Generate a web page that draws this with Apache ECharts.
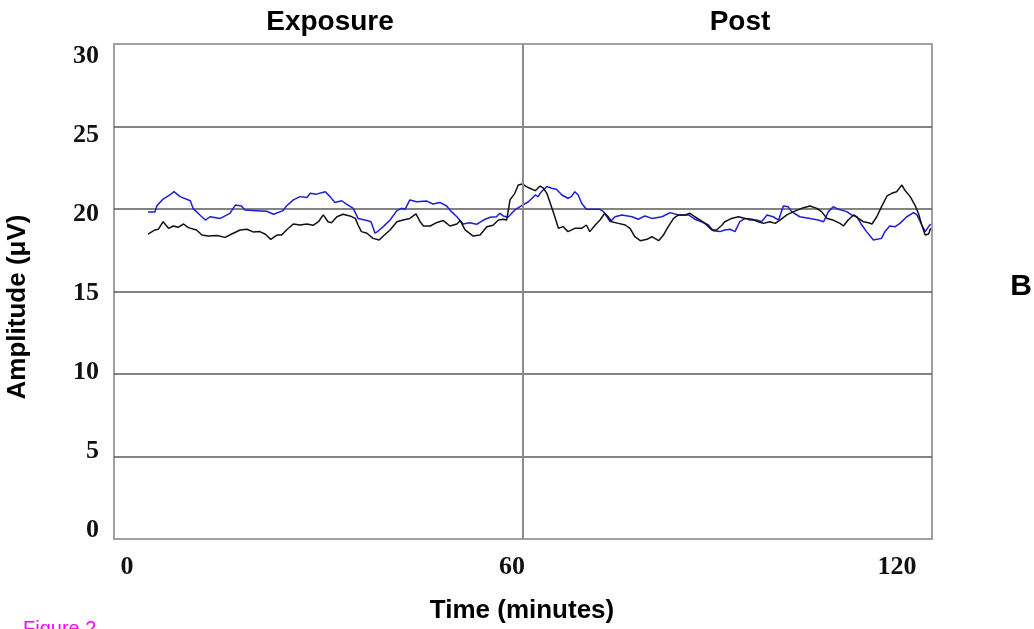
<!DOCTYPE html>
<html>
<head>
<meta charset="utf-8">
<script src="https://cdn.jsdelivr.net/npm/echarts@6/dist/echarts.min.js"></script>
<style>
html,body{margin:0;padding:0;background:#fff;}
#chart{width:1034px;height:629px;}
</style>
</head>
<body>
<div id="chart"></div>
<script>
// ---- Data (time in minutes, amplitude in µV) ----
const blueTime = [5.0,6.0,6.3,7.2,8.2,8.8,9.7,11.2,11.6,12.6,13.4,14.1,15.6,17.0,17.8,18.7,19.2,20.9,22.4,23.4,24.8,25.3,26.3,27.3,28.3,28.8,29.7,31.0,31.7,32.4,33.4,34.1,35.1,35.8,37.1,37.7,38.3,38.8,39.5,40.5,41.5,42.2,42.7,43.4,44.4,45.9,46.8,47.8,48.8,49.5,50.3,51.2,52.2,53.2,54.2,55.2,56.1,56.6,57.1,57.8,58.8,59.8,60.8,61.8,62.2,62.7,63.5,64.2,64.9,65.7,66.6,67.1,67.6,68.1,68.6,69.3,70.3,71.3,71.8,72.8,73.5,74.5,76.0,76.9,77.9,78.9,80.4,81.6,82.8,84.3,85.2,86.2,87.2,87.9,88.9,89.6,90.4,91.1,91.8,92.6,93.3,94.3,95.0,95.8,96.7,97.5,98.2,98.9,99.4,100.6,102.1,103.3,104.1,104.8,105.5,106.3,107.5,108.2,109.0,109.7,110.4,111.4,112.6,113.1,113.8,114.6,115.3,116.3,117.3,117.8,118.5,119.0,119.5,119.8];
const blueAmp = [19.82,19.82,20.2,20.6,20.85,21.05,20.75,20.5,20.04,19.64,19.33,19.53,19.43,19.74,20.24,20.18,19.94,19.9,19.86,19.68,19.9,20.18,20.55,20.75,20.7,20.95,20.9,21.05,20.75,20.4,20.5,20.3,20.04,19.43,19.3,19.23,18.53,18.68,18.93,19.33,19.9,20.04,19.98,20.55,20.44,20.48,20.3,20.4,20.18,19.84,19.53,19.09,19.17,19.07,19.33,19.5,19.53,19.74,19.58,19.5,19.94,20.2,20.44,20.85,20.75,21.05,21.36,21.26,21.2,20.85,20.65,20.75,21.05,20.85,20.35,19.98,19.98,19.98,19.84,19.23,19.53,19.64,19.53,19.38,19.58,19.43,19.53,19.78,19.64,19.64,19.38,19.23,19.03,18.68,18.63,18.73,18.77,18.63,19.23,19.43,19.33,19.33,19.23,19.64,19.53,19.33,20.18,20.14,19.84,19.53,19.43,19.33,19.23,19.84,20.14,19.98,19.84,19.64,19.53,19.03,18.63,18.12,18.22,18.63,18.97,18.93,19.13,19.53,19.78,19.64,19.03,18.63,18.93,19.09];

const blackTime = [5.0,6.0,6.5,7.2,8.0,8.7,9.4,10.2,10.9,12.1,12.9,13.8,15.1,16.3,17.5,18.5,19.5,20.4,21.4,22.2,23.0,23.9,24.6,25.3,26.3,27.3,28.3,29.2,30.0,30.7,31.4,31.9,32.7,33.6,34.6,35.4,35.8,36.3,37.1,38.0,38.9,39.5,40.5,41.5,42.4,43.4,44.3,44.9,45.4,46.4,47.3,48.3,49.3,50.3,50.8,51.5,52.7,53.7,54.7,55.6,56.4,57.1,57.6,58.1,58.8,59.3,59.9,60.5,61.0,61.8,62.5,63.0,63.5,64.0,64.5,65.2,65.9,66.6,67.6,68.6,69.3,69.8,70.6,71.3,72.0,72.5,73.0,74.0,75.0,75.7,76.4,77.2,78.2,78.9,79.9,80.6,81.3,82.1,82.8,83.8,84.5,85.2,86.0,86.7,87.7,88.4,89.2,89.6,90.6,91.6,92.6,93.6,94.5,95.3,96.2,97.0,97.7,98.7,99.7,100.9,102.1,103.1,103.8,104.6,105.5,106.5,107.0,107.7,108.5,109.2,109.9,110.7,111.2,111.9,112.6,113.4,114.1,114.8,115.6,116.0,116.8,117.5,118.0,118.5,119.0,119.5,119.8];
const blackAmp = [18.48,18.73,18.77,19.23,18.83,18.97,18.89,19.09,18.87,18.73,18.42,18.36,18.4,18.28,18.53,18.73,18.77,18.61,18.63,18.47,18.16,18.42,18.42,18.73,19.09,19.03,19.09,19.01,19.23,19.64,19.23,19.17,19.53,19.68,19.58,19.43,19.03,18.63,18.53,18.22,18.12,18.36,18.73,19.23,19.33,19.43,19.7,19.23,18.97,18.97,19.17,19.3,18.97,19.09,19.3,18.73,18.36,18.42,18.93,19.01,19.33,19.38,19.33,20.55,20.95,21.45,21.52,21.36,21.26,21.11,21.39,21.26,20.95,20.35,19.74,18.83,18.93,18.63,18.83,18.83,19.03,18.63,19.03,19.33,19.74,19.53,19.23,19.13,19.03,18.83,18.32,18.08,18.16,18.32,18.08,18.42,18.93,19.43,19.64,19.64,19.74,19.53,19.33,19.13,18.73,18.73,19.03,19.23,19.43,19.53,19.43,19.38,19.23,19.13,19.23,19.13,19.33,19.64,19.84,20.04,20.18,20.04,19.84,19.43,19.33,19.13,18.97,19.33,19.64,19.43,19.23,19.17,19.09,19.53,20.14,20.79,20.95,21.05,21.45,21.15,20.75,20.24,19.74,19.03,18.42,18.48,18.83];

const xTickLabels = [0, 60, 120];
const yTickLabels = [0, 5, 10, 15, 20, 25, 30];
const phaseBoundary = 60;
const phaseTitles = ['Exposure', 'Post'];

// ---- Chart ----
const chart = echarts.init(document.getElementById('chart'), null, {renderer: 'canvas'});
const zip = (t, v) => t.map((x, i) => [x, v[i]]);
const tickFont = {fontFamily: 'Liberation Serif', fontWeight: 'bold', fontSize: 26, color: '#111'};
const sans = 'Liberation Sans';

const option = {
  animation: false,
  backgroundColor: '#fff',
  grid: {left: 114, right: 102, top: 44, bottom: 90, show: true, borderColor: '#a0a0a0', borderWidth: 2, backgroundColor: 'transparent'},
  xAxis: [
    {type: 'value', min: 0, max: 120, axisLine: {show: false}, axisTick: {show: false}, axisLabel: {show: false}, splitLine: {show: false}},
    {type: 'value', position: 'bottom', min: -2.026, max: 125.45, axisLine: {show: false}, axisTick: {show: false}, splitLine: {show: false},
     axisLabel: Object.assign({margin: 15, customValues: xTickLabels}, tickFont)}
  ],
  yAxis: [
    {type: 'value', min: 0, max: 30, interval: 5, axisLine: {show: false}, axisTick: {show: false}, axisLabel: {show: false},
     splitLine: {show: true, showMinLine: false, showMaxLine: false, lineStyle: {color: '#5a5a5a', width: 1.5}}},
    {type: 'value', position: 'left', min: -0.537, max: 30.746, axisLine: {show: false}, axisTick: {show: false}, splitLine: {show: false},
     axisLabel: Object.assign({margin: 15, customValues: yTickLabels}, tickFont)}
  ],
  series: [
    {type: 'line', name: 'blue', xAxisIndex: 0, yAxisIndex: 0, data: zip(blueTime, blueAmp), showSymbol: false, symbol: 'none',
     lineStyle: {color: '#1e1ed2', width: 1.5}, z: 3},
    {type: 'line', name: 'black', xAxisIndex: 0, yAxisIndex: 0, data: zip(blackTime, blackAmp), showSymbol: false, symbol: 'none',
     lineStyle: {color: '#111111', width: 1.5}, z: 4,
     markLine: {silent: true, symbol: ['none', 'none'], label: {show: false},
       lineStyle: {color: '#8c8c8c', width: 2, type: 'solid'}, data: [{xAxis: phaseBoundary}]}}
  ],
  graphic: [
    {type: 'text', x: 330, y: 22, style: {text: phaseTitles[0], font: 'bold 28px "Liberation Sans"', fill: '#000', textAlign: 'center', textVerticalAlign: 'middle'}},
    {type: 'text', x: 740, y: 22, style: {text: phaseTitles[1], font: 'bold 28px "Liberation Sans"', fill: '#000', textAlign: 'center', textVerticalAlign: 'middle'}},
    {type: 'text', x: 522, y: 611, style: {text: 'Time (minutes)', font: 'bold 26px "Liberation Sans"', fill: '#000', textAlign: 'center', textVerticalAlign: 'middle'}},
    {type: 'text', x: 18, y: 307, rotation: Math.PI / 2, style: {text: 'Amplitude (μV)', font: 'bold 26px "Liberation Sans"', fill: '#000', textAlign: 'center', textVerticalAlign: 'middle'}},
    {type: 'text', x: 1021, y: 287, style: {text: 'B', font: 'bold 30px "Liberation Sans"', fill: '#000', textAlign: 'center', textVerticalAlign: 'middle'}},
    {type: 'text', x: 23, y: 619, style: {text: 'Figure 2', font: '20px "Liberation Sans"', fill: '#ff00ff', textAlign: 'left', textVerticalAlign: 'top'}}
  ]
};
chart.setOption(option);
</script>
</body>
</html>
